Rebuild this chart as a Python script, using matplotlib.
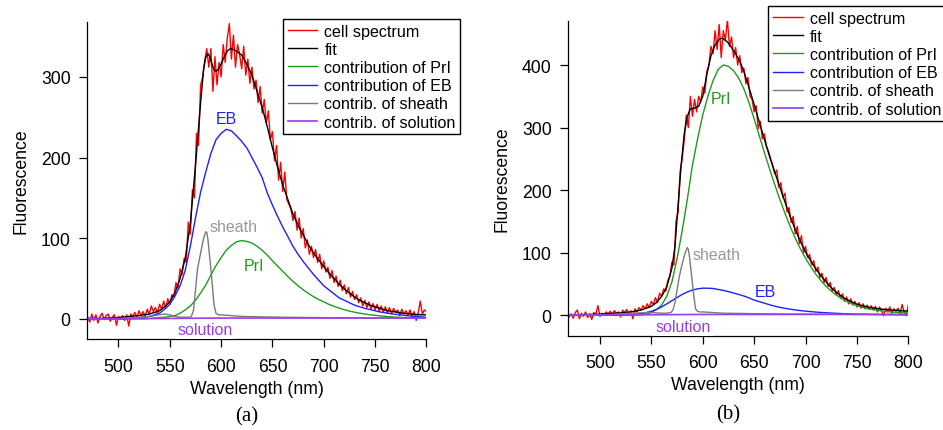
import numpy as np
import matplotlib
matplotlib.use("Agg")
import matplotlib.pyplot as plt

plt.rcParams["font.family"] = ["Liberation Sans", "DejaVu Sans"]

# ---- shared wavelength grids -------------------------------------------
wl_cell = np.arange(470, 801, 2)      # measured spectrum, 2 nm steps
wl_comp = np.arange(470, 801, 5)      # PrI / EB components, 5 nm steps
wl_sheath = [470, 500, 510, 520, 530, 540, 545, 550, 555, 560, 565, 569, 571, 573, 575,
             577, 579, 581, 583, 585, 586, 587, 589, 591, 593, 595, 597, 600, 610, 620,
             640, 660, 700, 750, 800]
wl_solution = [470, 550, 600, 700, 800]

# ---- panel (a) ----------------------------------------------------------
cell_a = [2, -4, 6, -2, 5, -5, 3, 7, -1, 4,
          6, -3, 2, 5, -8, 3, 1, 4, -2, 5,
          -9, 6, 3, 8, 2, 10, 4, 9, 3, 12,
          6, 16, 9, 14, 7, 18, 12, 22, 13, 25,
          18, 30, 28, 45, 38, 62, 55, 75, 70, 120,
          105, 160, 150, 230, 215, 290, 300, 320, 335, 312,
          335, 282, 325, 290, 318, 300, 340, 318, 348, 366,
          322, 352, 312, 340, 328, 310, 338, 302, 322, 292,
          312, 285, 296, 268, 288, 255, 272, 242, 258, 222,
          232, 196, 215, 172, 194, 158, 182, 148, 142, 136,
          122, 133, 110, 125, 100, 112, 88, 98, 80, 90,
          76, 86, 70, 80, 62, 72, 58, 64, 50, 60,
          45, 53, 40, 48, 35, 42, 31, 39, 27, 34,
          24, 30, 20, 26, 16, 23, 14, 21, 12, 19,
          11, 18, 9, 16, 8, 15, 7, 14, 6, 13,
          8, 11, 4, 12, 6, 10, 5, 11, 3, 9,
          -2, 7, 22, 6, 11, 9]

wl_fit_a = [470, 480, 490, 500, 510, 520, 530, 535, 540, 545,
            550, 555, 560, 565, 570, 575, 580, 583, 585, 587,
            589, 591, 593, 595, 597, 600, 603, 606, 609, 612,
            615, 620, 625, 630, 635, 640, 645, 650, 655, 660,
            665, 670, 675, 680, 685, 690, 695, 700, 705, 710,
            715, 720, 725, 730, 735, 740, 745, 750, 755, 760,
            765, 770, 775, 780, 785, 790, 795, 800]
fit_a = [0.5, 0.5, 1, 1.5, 3, 4, 6, 8, 10, 15,
         21, 32, 50, 75, 118, 190, 268, 310, 324, 329,
         325, 316, 309, 307, 309, 316, 325, 332, 335, 334,
         332, 327, 316, 302, 282, 262, 238, 212, 188, 166,
         148, 130, 116, 104, 92, 82, 73, 65, 57, 50,
         43, 37, 32, 27, 23, 20, 17, 15, 13, 11,
         9.5, 8.5, 7.5, 6.5, 6, 5.5, 5, 5]

prl_a = [0, 0, 0, 0, 0, 0, 0, 0, 0, 0,
         0, 0, 0.5, 1, 1.5, 2, 3, 4, 7, 11,
         16, 23, 32, 42, 54, 66, 76, 85, 91, 95.5,
         97, 96, 94, 90, 85, 79, 72, 65.5, 59, 52.5,
         46.5, 41, 36, 31.5, 27.5, 24, 21, 18, 15.5, 13.3,
         11.3, 9.6, 8.2, 7, 6, 5, 4.3, 3.7, 3.1, 2.6,
         2.2, 1.8, 1.5, 1.3, 1.1, 1, 0.9]
eb_a = [0, 0, 0, 0, 0, 0, 0, 0, 0.5, 0.5,
        1, 2, 3, 5, 7, 12, 18, 28, 41, 60,
        90, 125, 157, 182, 205, 222, 230, 235, 233, 227,
        220, 212, 200, 188, 175, 156, 141, 127, 114, 102,
        90, 80, 71, 63, 55, 48, 41, 36, 31, 26,
        23, 20, 17, 15, 13, 11.5, 10, 8.5, 7.5, 6.5,
        5.5, 5, 4, 3.5, 3, 2.5, 2]
sheath_a = [0, 0.5, 1, 2, 3, 5, 6, 5, 3, 2, 2, 2, 3, 10, 35,
            62, 75, 88, 100, 108, 107, 100, 75, 48, 18, 7, 5, 5, 4, 3,
            2.5, 2, 1.5, 1, 1]
solution_a = [0, 0.5, 1, 1, 1]

# ---- panel (b) ----------------------------------------------------------
cell_b = [-3, 2, -5, 4, 8, -6, 3, -2, 5, -4,
          2, -7, 4, 1, 15, -2, 3, 0, 5, 2,
          6, 1, 7, 3, 5, -3, 8, 4, 9, 2,
          7, -6, 10, 5, 12, 8, 15, 10, 18, 12,
          22, 17, 28, 20, 35, 30, 42, 38, 55, 62,
          85, 80, 150, 165, 230, 250, 280, 320, 300, 350,
          318, 345, 325, 350, 340, 365, 355, 390, 400, 430,
          418, 455, 425, 465, 412, 455, 440, 472, 430, 445,
          412, 428, 400, 415, 388, 395, 370, 380, 350, 345,
          325, 335, 298, 310, 282, 290, 270, 262, 250, 240,
          226, 232, 204, 212, 188, 195, 165, 172, 148, 158,
          130, 142, 114, 127, 100, 110, 92, 97, 80, 87,
          70, 77, 60, 67, 52, 60, 46, 52, 38, 44,
          32, 39, 27, 34, 22, 29, 18, 26, 16, 22,
          13, 20, 11, 18, 10, 16, 9, 15, 8, 14,
          5, 13, 7, -1, 11, 5, 13, 3, 10, 6,
          11, 2, 17, 5, -1, 16]

wl_fit_b = [470, 480, 490, 500, 510, 520, 530, 540, 545, 550,
            555, 560, 565, 570, 573, 576, 579, 582, 585, 588,
            592, 596, 600, 604, 608, 612, 616, 618, 620, 624,
            628, 632, 636, 640, 645, 650, 655, 660, 665, 670,
            675, 680, 685, 690, 695, 700, 705, 710, 715, 720,
            725, 730, 735, 740, 745, 750, 755, 760, 765, 770,
            775, 780, 785, 790, 795, 800]
fit_b = [0, 0.5, 1, 1.5, 2.5, 3.5, 5, 8, 11, 14,
         20, 30, 45, 75, 110, 175, 240, 290, 318, 330,
         331, 334, 350, 385, 415, 432, 441, 443, 442, 437,
         428, 418, 406, 390, 364, 337, 309, 281, 254, 229,
         205, 181, 158, 137, 118, 101, 87, 74, 63, 53,
         44, 36.5, 30, 25, 21, 17.5, 15, 13, 11.5, 10.3,
         9.3, 8.5, 7.8, 7.2, 6.7, 6.3]

prl_b = [0, 0, 0, 0, 0, 0, 0, 0, 0, 0,
         0, 0, 0, 0, 0.5, 1.5, 4, 9, 16, 30,
         53, 90, 135, 185, 240, 282, 320, 350, 375, 393,
         400, 398, 391, 379, 362, 340, 314, 287, 260, 234,
         209, 185, 163, 142, 123, 106, 91, 77.5, 65.5, 55,
         46, 38.5, 32, 26.5, 22, 18, 15, 12.5, 10.5, 9,
         7.5, 6.5, 5.5, 4.8, 4.2, 3.7, 3.3]
eb_b = [0, 0, 0, 0, 0, 0, 0, 0, 0, 0,
        0, 0.5, 1, 1.5, 2.5, 4, 6, 9, 13, 18,
        23, 28, 33, 37, 40, 42, 43, 43, 42.5, 41,
        39.5, 37.5, 35.3, 33, 30.5, 27.5, 24, 21.5, 19, 16.5,
        14.3, 12.4, 10.8, 9.4, 8.2, 7.2, 6.3, 5.5, 4.8, 4.2,
        3.7, 3.2, 2.8, 2.4, 2.1, 1.8, 1.6, 1.4, 1.2, 1.0,
        0.9, 0.8, 0.7, 0.6, 0.5, 0.5, 0.5]
sheath_b = [0, 0.5, 1, 2, 3, 3.5, 4, 4, 3.5, 3, 3, 4, 8, 20, 40,
            60, 75, 88, 100, 108, 105, 95, 65, 35, 10, 6, 5, 5, 4, 3,
            2.5, 2, 1.5, 1, 1]
solution_b = [0, 0.5, 1, 1, 1]

legend_labels = ["cell spectrum", "fit", "contribution of PrI", "contribution of EB",
                 "contrib. of sheath", "contrib. of solution"]

RED, GREEN, BLUE, GREY, PURPLE = "#ff0000", "#1f9a1f", "#1f1fff", "#7a7a7a", "#9a3cf0"


def draw_panel(ax, cell, wl_fit, fit, prl, eb, sheath, solution):
    lines = [
        ax.plot(wl_cell, cell, color=RED, lw=1.0)[0],
        ax.plot(wl_fit, fit, color="black", lw=1.0)[0],
        ax.plot(wl_comp, prl, color=GREEN, lw=1.0)[0],
        ax.plot(wl_comp, eb, color=BLUE, lw=1.0)[0],
        ax.plot(wl_sheath, sheath, color=GREY, lw=1.0)[0],
        ax.plot(wl_solution, solution, color=PURPLE, lw=1.2)[0],
    ]
    for side in ("top", "right"):
        ax.spines[side].set_visible(False)
    for side in ("left", "bottom"):
        ax.spines[side].set_linewidth(0.9)
    ax.set_xticks(range(500, 801, 50))
    ax.tick_params(direction="out", length=6, width=0.9, labelsize=12.7, pad=5.5)
    ax.tick_params(axis="x", pad=7.5)
    ax.set_xlabel("Wavelength (nm)", fontsize=12.7, labelpad=3.5)
    ax.set_ylabel("Fluorescence", fontsize=12.7, labelpad=8)
    return lines


fig = plt.figure(figsize=(9.43, 4.31), dpi=100)
ax_a = fig.add_axes([0.0919, 0.2111, 0.3603, 0.7355])
ax_b = fig.add_axes([0.6020, 0.2188, 0.3612, 0.7309])

lines_a = draw_panel(ax_a, cell_a, wl_fit_a, fit_a, prl_a, eb_a, sheath_a, solution_a)
ax_a.set_xlim(469, 800)
ax_a.set_ylim(-25, 368)
ax_a.set_yticks([0, 100, 200, 300])

lines_b = draw_panel(ax_b, cell_b, wl_fit_b, fit_b, prl_b, eb_b, sheath_b, solution_b)
ax_b.set_xlim(468.6, 800)
ax_b.set_ylim(-33, 471)
ax_b.set_yticks([0, 100, 200, 300, 400])

# curve labels
lab = dict(fontsize=11.5, ha="center", va="center")
ax_a.text(605, 249, "EB", color=BLUE, **lab)
ax_a.text(612, 114.5, "sheath", color="#999999", **lab)
ax_a.text(632, 66, "PrI", color=GREEN, **lab)
ax_a.text(584, -13.6, "solution", color=PURPLE, clip_on=False, zorder=5,
          bbox=dict(facecolor="white", edgecolor="none", pad=1.5), **lab)

ax_b.text(618, 346, "PrI", color=GREEN, **lab)
ax_b.text(613.5, 97.7, "sheath", color="#999999", **lab)
ax_b.text(660.6, 38, "EB", color=BLUE, **lab)
ax_b.text(581, -18.7, "solution", color=PURPLE, clip_on=False, zorder=5,
          bbox=dict(facecolor="white", edgecolor="none", pad=1.5), **lab)

leg_kw = dict(loc="upper left", bbox_transform=fig.transFigure, borderaxespad=0,
              borderpad=0.3, handlelength=1.85, handletextpad=0.43, labelspacing=0.2,
              fontsize=11.6, fancybox=False, edgecolor="black", framealpha=1)
leg_a = ax_a.legend(lines_a, legend_labels, bbox_to_anchor=(0.2998, 0.9543), **leg_kw)
leg_b = ax_b.legend(lines_b, legend_labels, bbox_to_anchor=(0.8144, 0.9845), **leg_kw)
for leg in (leg_a, leg_b):
    leg.get_frame().set_linewidth(1.0)

fig.text(246.7 / 943, 1 - 416.7 / 431, "(a)", ha="center", va="center",
         family="Liberation Serif", fontsize=15)
fig.text(728.3 / 943, 1 - 415 / 431, "(b)", ha="center", va="center",
         family="Liberation Serif", fontsize=15)

fig.savefig("out.png", dpi=100)
